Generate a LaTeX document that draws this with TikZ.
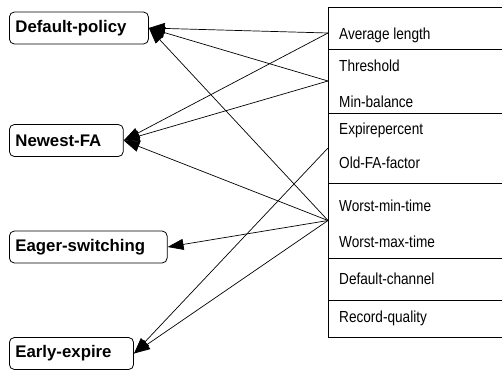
\documentclass[tikz,border=0pt]{standalone}
\usepackage{fontspec}
\setmainfont{Liberation Sans}
\newfontfamily\attrfont[FakeStretch=0.85]{Liberation Sans}
\usetikzlibrary{arrows.meta,positioning}

\begin{document}
\begin{tikzpicture}[x=1pt,y=-1pt,>={Triangle[length=16pt,width=11pt]},
	policy/.style={draw, line width=0.8pt, rounded corners=5pt, anchor=west, minimum height=32pt,
		inner xsep=6pt, font=\bfseries\fontsize{16.8}{18}\selectfont, execute at end node={\hspace{16pt}}},
	group/.style={draw, line width=0.8pt, minimum width=200pt, outer sep=0pt, inner sep=0pt},
	attr/.style={anchor=base west, inner sep=0pt, font=\attrfont\fontsize{16}{18}\selectfont},
	link/.style={->, line width=0.7pt}]
	\clip (0,0) rectangle (502,370);

	% policies
	\node[policy] (default) at (9,28) {Default-policy};
	\node[policy] (newest) at (9,140.5) {Newest-FA};
	\node[policy] (eager) at (9,247) {Eager-switching};
	\node[policy] (early) at (9,353.5) {Early-expire};

	% parameter box
	\node[group, anchor=north west, minimum height=42pt] (g1) at (328,7) {};
	\node[group, minimum height=64pt, below=0pt of g1] (g2) {};
	\node[group, minimum height=70pt, below=0pt of g2] (g3) {};
	\node[group, minimum height=75pt, below=0pt of g3] (g4) {};
	\node[group, minimum height=42pt, below=0pt of g4] (g5) {};
	\node[group, minimum height=37pt, below=0pt of g5] (g6) {};
	\coordinate (g1in) at (328,33);

	\foreach \name/\yy/\txt in {avglen/39/Average length, threshold/71/Threshold, minbal/107/Min-balance,
		expire/134/Expirepercent, oldfa/168/Old-FA-factor, worstmin/211/Worst-min-time,
		worstmax/247/Worst-max-time, defchan/284/Default-channel, recqual/322/Record-quality}
		\node[attr] (\name) at (339,\yy) {\txt};

	% links
	\draw[link] (g1in) -- (default.east);
	\draw[link] (g1in) -- (newest.east);
	\draw[link] (g2.west) -- (default.east);
	\draw[link] (g2.west) -- (newest.east);
	\draw[link] (g3.west) -- (early.east);
	\foreach \p in {default,newest,eager,early}
		\draw[link] (g4.west) -- (\p.east);
\end{tikzpicture}
\end{document}
